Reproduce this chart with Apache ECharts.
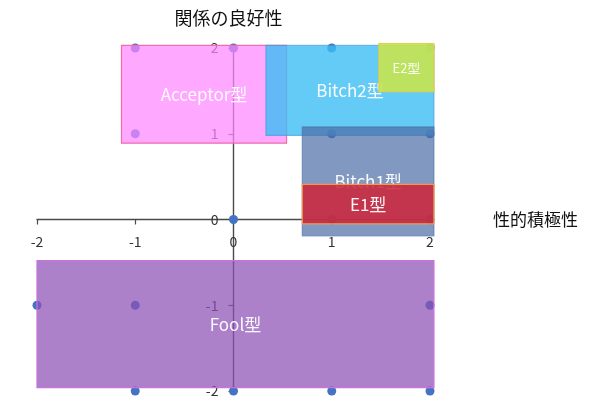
<!DOCTYPE html>
<html>
<head>
<meta charset="utf-8">
<script src="https://cdn.jsdelivr.net/npm/echarts@6/dist/echarts.min.js"></script>
<style>html,body{margin:0;padding:0;background:#fff}#c{width:600px;height:420px}</style>
</head>
<body>
<div id="c"></div>
<script>
// Tick values
const tickValues = [-2, -1, 0, 1, 2];
// Scatter points (x, y)
const pointX = [-1, 0, 1, 2, -1, 1, 2, 0, 1, 2, -2, -1, 2, -1, 0, 1, 2];
const pointY = [ 2, 2, 2, 2,  1, 1, 1, 0, 0, 0, -1, -1, -1, -2, -2, -2, -2];
// Type regions
const rectNames = ['Acceptor型', 'Bitch2型', 'E2型', 'Bitch1型', 'E1型', 'Fool型'];
const rectX0 = [-1.14, 0.33, 1.48, 0.70, 0.70, -2.00];
const rectX1 = [ 0.54, 2.04, 2.04, 2.04, 2.04,  2.04];
const rectY0 = [ 0.89, 0.98, 1.49, -0.19, -0.05, -1.96];
const rectY1 = [ 2.03, 2.03, 2.05, 1.08, 0.41, -0.48];

const fills = ['rgba(255,135,255,0.72)', 'rgba(60,190,242,0.80)', 'rgba(200,228,80,0.90)',
               'rgba(75,108,165,0.70)', 'rgba(205,40,60,0.88)', 'rgba(140,80,180,0.72)'];
const borders = ['#EE6FA8', 'rgba(60,150,220,0.6)', '#E6D040', 'rgba(75,108,165,0.6)', '#F09A50', '#CC70E0'];
const fontSizes = [17, 17, 13, 17, 17, 17];

const pts = pointX.map((x, i) => [x, pointY[i]]);
const rects = rectNames.map((n, i) => [rectX0[i], rectY0[i], rectX1[i], rectY1[i], n]);

const chart = echarts.init(document.getElementById('c'));
const font = '"Noto Sans CJK JP", "Noto Sans", sans-serif';
const G = {left: 37, right: 170, top: 48, bottom: 29};
const gw = 600 - G.left - G.right, gh = 420 - G.top - G.bottom;
chart.setOption({
  animation: false,
  grid: G,
  xAxis: {
    type: 'value', min: -2, max: 2, interval: 1, position: 'bottom', offset: -gh / 2,
    axisLine: {onZero: false, lineStyle: {color: '#4a4a4a', width: 1.4}},
    axisTick: {show: true, length: 5, lineStyle: {color: '#4a4a4a', width: 1.2}},
    axisLabel: {color: '#333', fontSize: 14, margin: 15, fontFamily: font,
                formatter: v => tickValues.includes(v) ? String(v) : ''},
    splitLine: {show: false},
    name: '性的積極性', nameLocation: 'end', nameGap: 63,
    nameTextStyle: {color: '#111', fontSize: 17, fontFamily: font, verticalAlign: 'middle', align: 'left'}
  },
  yAxis: {
    type: 'value', min: -2, max: 2, interval: 1, position: 'left', offset: -gw / 2,
    axisLine: {onZero: false, lineStyle: {color: '#4a4a4a', width: 1.4}},
    axisTick: {show: true, length: 5, lineStyle: {color: '#4a4a4a', width: 1.2}},
    axisLabel: {color: '#333', fontSize: 14, margin: 15, fontFamily: font},
    splitLine: {show: false},
    name: '関係の良好性', nameLocation: 'end', nameGap: 21,
    nameTextStyle: {color: '#111', fontSize: 18, fontFamily: font, padding: [0, 10, 0, 0]}
  },
  series: [
    {
      type: 'scatter', z: 2, data: pts, symbolSize: 9,
      itemStyle: {color: '#4472C4', opacity: 1}
    },
    {
      type: 'custom', z: 3, clip: false, data: rects,
      renderItem: function (params, api) {
        const i = params.dataIndex;
        const p0 = api.coord([api.value(0), api.value(3)]);
        const p1 = api.coord([api.value(2), api.value(1)]);
        const cx = (p0[0] + p1[0]) / 2, cy = (p0[1] + p1[1]) / 2;
        return {
          type: 'group',
          children: [
            {type: 'rect', z2: i * 2,
             shape: {x: p0[0], y: p0[1], width: p1[0] - p0[0], height: p1[1] - p0[1]},
             style: {fill: fills[i], stroke: borders[i], lineWidth: 1.2}},
            {type: 'text', z2: i * 2 + 1,
             style: {text: rectNames[i], x: cx, y: cy, align: 'center', verticalAlign: 'middle',
                     fill: 'rgba(255,255,255,0.95)', fontSize: fontSizes[i], fontFamily: font}}
          ]
        };
      }
    }
  ]
});
</script>
</body>
</html>
